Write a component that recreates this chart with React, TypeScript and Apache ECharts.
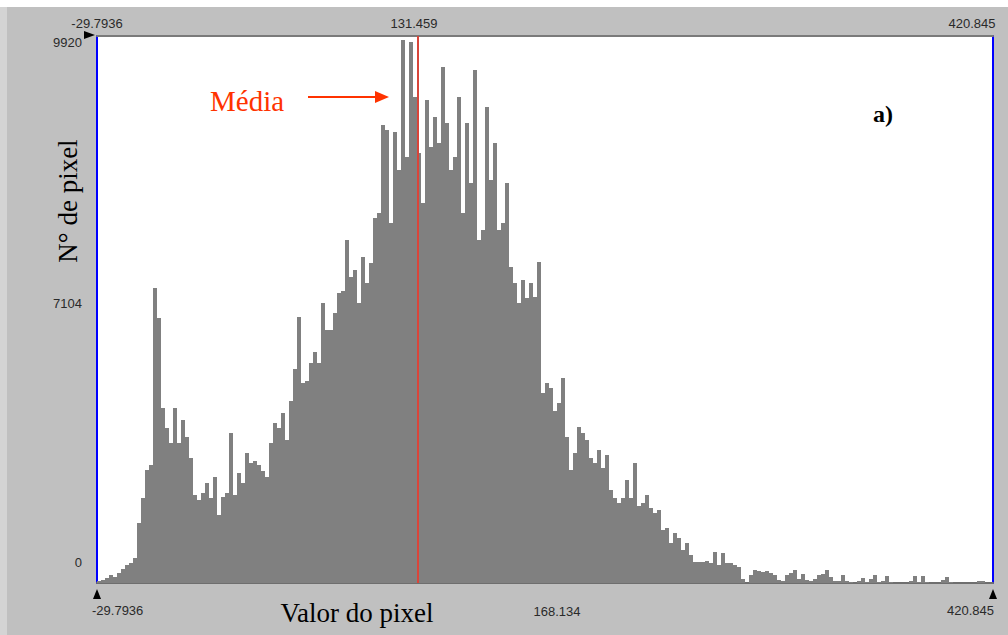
import React, { useEffect, useRef } from "react";
import * as echarts from "echarts";

// Histogram range (pixel values)
const xMin = -29.7936;
const xMax = 420.845;
const meanValue = 131.459;
const yMax = 9920;

// Pixel counts per bin (224 equal-width bins from xMin to xMax)
const counts = [
  36, 54, 91, 145, 109, 181, 254, 326, 363, 453,
  1088, 1541, 2049, 2140, 5350, 4806, 3174, 2811, 2539, 3174,
  2539, 2956, 2648, 2267, 1596, 1505, 1632, 1814, 1541, 1922,
  1233, 1560, 1632, 2720, 1596, 1995, 1814, 2358, 2176, 2212,
  2140, 2031, 1922, 2539, 2902, 2811, 3083, 2593, 3301, 3881,
  4824, 3627, 3663, 3990, 4189, 3990, 5078, 4588, 4588, 4896,
  5259, 5295, 6220, 5549, 5676, 5078, 5912, 5441, 5803, 6619,
  6710, 8306, 8215, 6529, 8179, 7490, 9847, 7726, 9811, 8814,
  7798, 6891, 8759, 7907, 8451, 7979, 9358, 8342, 7490, 7726,
  8814, 6710, 8342, 7254, 9303, 6220, 6402, 8632, 7308, 7979,
  6402, 6529, 7254, 5731, 5441, 5078, 5495, 5168, 5441, 5187,
  5821, 3446, 3627, 3536, 3119, 3264, 3718, 2648, 2049, 2358,
  2829, 2720, 2593, 2267, 2176, 2412, 2086, 2321, 1687, 1541,
  1451, 1541, 1868, 1541, 2176, 1396, 1451, 1596, 1360, 1269,
  1324, 961, 997, 725, 907, 816, 598, 725, 508, 381,
  381, 381, 399, 363, 562, 326, 544, 363, 363, 326,
  290, 73, 0, 145, 236, 218, 199, 218, 181, 145,
  54, 36, 145, 181, 236, 73, 163, 54, 36, 73,
  145, 163, 236, 109, 36, 36, 145, 36, 18, 0,
  36, 91, 18, 73, 145, 18, 36, 127, 18, 0,
  0, 0, 0, 36, 127, 18, 127, 18, 0, 0,
  0, 54, 109, 18, 0, 0, 0, 0, 0, 0,
  36, 36, 0, 0,
];

const topTickLabels = ["-29.7936", "131.459", "420.845"];
const leftTickLabels = ["9920", "7104", "0"];
const bottomTickLabels = ["-29.7936", "168.134", "420.845"];
const meanLabel = "Média";
const panelLabel = "a)";
const yTitle = "N° de pixel";
const xTitle = "Valor do pixel";

export default function App() {
  const ref = useRef<HTMLDivElement>(null);

  useEffect(() => {
    if (!ref.current) return;
    const chart = echarts.init(ref.current, null, { renderer: "svg" });

    const binW = (xMax - xMin) / counts.length;
    const pts: number[][] = counts.map((c, i) => [xMin + i * binW, c]);
    pts.push([xMax, counts[counts.length - 1]]);

    const tickFont = {
      fontFamily: "'Liberation Sans', Arial, sans-serif",
      fontSize: 13,
      fill: "#2a2a2a",
    };
    const serif = "'Liberation Serif', 'Times New Roman', serif";

    chart.setOption({
      animation: false,
      backgroundColor: "#c0c0c0",
      grid: {
        left: 97,
        right: 15,
        top: 36,
        bottom: 52,
        show: true,
        backgroundColor: "#ffffff",
        borderWidth: 0,
      },
      xAxis: [
        {
          type: "value",
          min: xMin,
          max: xMax,
          axisLabel: { show: false },
          axisTick: { show: false },
          splitLine: { show: false },
          axisLine: { show: true, onZero: false, lineStyle: { color: "#6e6e6e", width: 2 } },
        },
        {
          type: "value",
          position: "top",
          min: xMin,
          max: xMax,
          axisLabel: { show: false },
          axisTick: { show: false },
          splitLine: { show: false },
          axisLine: { show: true, onZero: false, lineStyle: { color: "#7a7a7a", width: 2 } },
        },
      ],
      yAxis: [
        {
          type: "value",
          min: 0,
          max: yMax,
          axisLabel: { show: false },
          axisTick: { show: false },
          splitLine: { show: false },
          axisLine: { show: true, onZero: false, lineStyle: { color: "#0000ff", width: 2 } },
        },
        {
          type: "value",
          position: "right",
          min: 0,
          max: yMax,
          axisLabel: { show: false },
          axisTick: { show: false },
          splitLine: { show: false },
          axisLine: { show: true, onZero: false, lineStyle: { color: "#0000ff", width: 2 } },
        },
      ],
      series: [
        {
          type: "line",
          data: pts,
          step: "end",
          symbol: "none",
          lineStyle: { width: 0 },
          areaStyle: { color: "#808080", opacity: 1 },
          z: 2,
          markLine: {
            silent: true,
            symbol: ["none", "none"],
            label: { show: false },
            lineStyle: { color: "#d9453a", width: 2, type: "solid" },
            data: [{ xAxis: meanValue }],
          },
        },
      ],
      graphic: [
        { type: "rect", shape: { x: 0, y: 0, width: 1008, height: 7 }, style: { fill: "#ffffff" } },
        { type: "rect", shape: { x: 0, y: 7, width: 7, height: 628 }, style: { fill: "#d4d4d4" } },
        // top tick labels
        { type: "text", x: 97, y: 23, style: { ...tickFont, text: topTickLabels[0], align: "center", verticalAlign: "middle" } },
        { type: "text", x: 414, y: 23, style: { ...tickFont, text: topTickLabels[1], align: "center", verticalAlign: "middle" } },
        { type: "text", x: 972, y: 23, style: { ...tickFont, text: topTickLabels[2], align: "center", verticalAlign: "middle" } },
        // left tick labels
        { type: "text", x: 82, y: 42, style: { ...tickFont, text: leftTickLabels[0], align: "right", verticalAlign: "middle" } },
        { type: "text", x: 82, y: 303, style: { ...tickFont, text: leftTickLabels[1], align: "right", verticalAlign: "middle" } },
        { type: "text", x: 82, y: 562, style: { ...tickFont, text: leftTickLabels[2], align: "right", verticalAlign: "middle" } },
        // bottom tick labels
        { type: "text", x: 92, y: 610, style: { ...tickFont, text: bottomTickLabels[0], align: "left", verticalAlign: "middle" } },
        { type: "text", x: 557, y: 611, style: { ...tickFont, text: bottomTickLabels[1], align: "center", verticalAlign: "middle" } },
        { type: "text", x: 994, y: 610, style: { ...tickFont, text: bottomTickLabels[2], align: "right", verticalAlign: "middle" } },
        // markers
        { type: "polygon", shape: { points: [[84, 31], [95, 35], [84, 39]] }, style: { fill: "#000" } },
        { type: "polygon", shape: { points: [[93, 599], [97, 589], [101, 599]] }, style: { fill: "#000" } },
        { type: "polygon", shape: { points: [[989, 599], [993, 589], [997, 599]] }, style: { fill: "#000" } },
        // Média annotation
        {
          type: "text",
          x: 210,
          y: 101,
          style: { text: meanLabel, fontFamily: serif, fontSize: 29, fill: "#ff3300", verticalAlign: "middle" },
        },
        { type: "line", shape: { x1: 308, y1: 97, x2: 377, y2: 97 }, style: { stroke: "#ff3300", lineWidth: 2 } },
        { type: "polygon", shape: { points: [[375, 91], [389, 97], [375, 103]] }, style: { fill: "#ff3300" } },
        {
          type: "text",
          x: 873,
          y: 114,
          style: { text: panelLabel, fontFamily: serif, fontSize: 24, fontWeight: "bold", fill: "#000", verticalAlign: "middle" },
        },
        {
          type: "text",
          x: 68,
          y: 201,
          rotation: Math.PI / 2,
          style: { text: yTitle, fontFamily: serif, fontSize: 27, fill: "#000", align: "center", verticalAlign: "middle" },
        },
        {
          type: "text",
          x: 357,
          y: 613,
          style: { text: xTitle, fontFamily: serif, fontSize: 27, fill: "#000", align: "center", verticalAlign: "middle" },
        },
      ],
    });

    return () => chart.dispose();
  }, []);

  return (
    <div
      ref={ref}
      style={{ position: "absolute", left: 0, top: 0, width: 1008, height: 635 }}
    />
  );
}
